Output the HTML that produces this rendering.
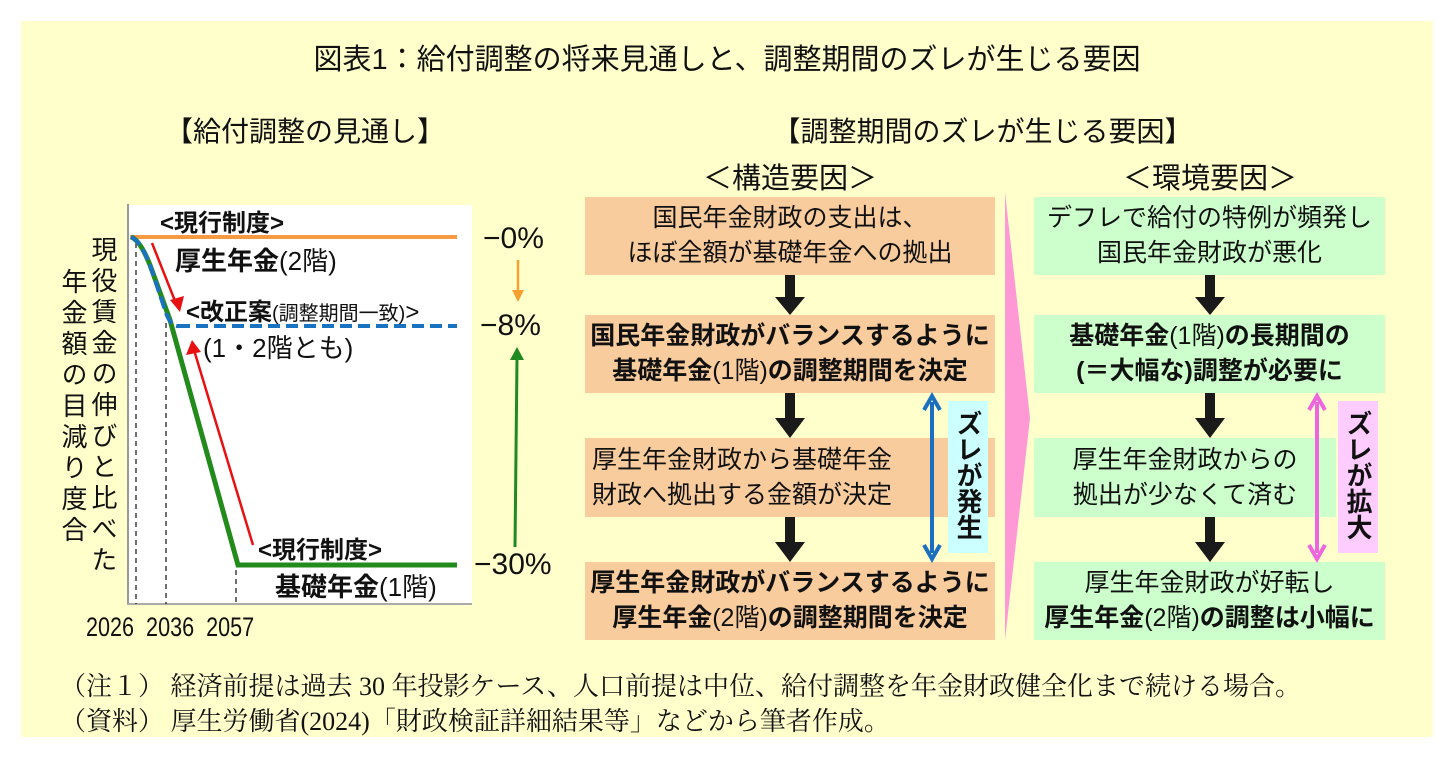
<!DOCTYPE html>
<html><head><meta charset="utf-8">
<style>
body{margin:0;width:1454px;height:766px;background:#fff;position:relative;overflow:hidden;font-family:"Liberation Sans","Noto Sans CJK JP",sans-serif;color:#111}
.p{position:absolute;white-space:nowrap}
.panel{position:absolute;left:21px;top:21px;width:1412px;height:716px;background:#ffffcc}
.box{position:absolute;display:flex;flex-direction:column;justify-content:center;align-items:center;font-size:25px;line-height:35px;text-align:center}
.o{background:#f9cc9e;left:585px;width:410px}
.g{background:#ccffcc;left:1034px;width:351px}
b{font-weight:bold}
.n{font-weight:normal}
.serif{font-family:"Liberation Serif","Noto Serif CJK JP",serif;font-size:26px}
.v{writing-mode:vertical-rl;position:absolute;font-size:26px;line-height:30px;letter-spacing:2px}
</style></head><body>
<div class="panel"></div>
<div class="p" style="left:0;width:1454px;text-align:center;top:36px;font-size:29px">図表1：給付調整の将来見通しと、調整期間のズレが生じる要因</div>
<div class="p" style="left:160px;width:290px;text-align:center;top:110px;font-size:28px">【給付調整の見通し】</div>
<div class="p" style="left:760px;width:445px;text-align:center;top:110px;font-size:28px">【調整期間のズレが生じる要因】</div>
<div class="p" style="left:690px;width:200px;text-align:center;top:155px;font-size:29px">＜構造要因＞</div>
<div class="p" style="left:1110px;width:200px;text-align:center;top:155px;font-size:29px">＜環境要因＞</div>

<div class="box o" style="top:197px;height:78px">国民年金財政の支出は、<br>ほぼ全額が基礎年金への拠出</div>
<div class="box o" style="top:315px;height:78px;font-weight:bold">国民年金財政がバランスするように<br><span>基礎年金<span class="n">(1階)</span>の調整期間を決定</span></div>
<div class="box o" style="top:438px;height:79px;align-items:flex-start;padding-left:7px;width:403px">厚生年金財政から基礎年金<br>財政へ拠出する金額が決定</div>
<div class="box o" style="top:562px;height:78px;font-weight:bold">厚生年金財政がバランスするように<br><span>厚生年金<span class="n">(2階)</span>の調整期間を決定</span></div>

<div class="box g" style="top:197px;height:78px">デフレで給付の特例が頻発し<br>国民年金財政が悪化</div>
<div class="box g" style="top:315px;height:78px;font-weight:bold"><span>基礎年金<span class="n">(1階)</span>の長期間の</span><span>(＝大幅な)調整が必要に</span></div>
<div class="box g" style="top:438px;height:79px;width:302px;padding-right:0">厚生年金財政からの<br>拠出が少なくて済む</div>
<div class="box g" style="top:562px;height:78px"><span>厚生年金財政が好転し</span><b>厚生年金<span class="n">(2階)</span>の調整は小幅に</b></div>

<svg class="p" style="left:0;top:0" width="1454" height="766">
<rect x="128" y="205" width="344" height="400" fill="#fff"/>
<line x1="128" y1="204" x2="128" y2="605" stroke="#999" stroke-width="2"/>
<line x1="127" y1="604" x2="472" y2="604" stroke="#aaa" stroke-width="2"/>
<g stroke="#222" stroke-width="1.3" stroke-dasharray="5,4">
<line x1="136" y1="243" x2="136" y2="604"/>
<line x1="166" y1="323" x2="166" y2="604"/>
<line x1="236" y1="570" x2="236" y2="604"/>
</g>
<line x1="130" y1="237" x2="457" y2="237" stroke="#f79a42" stroke-width="4"/>
<path d="M131,237 Q140,240 150,265 L170,320 L238,565 L457,565" fill="none" stroke="#238a1c" stroke-width="5"/>
<path d="M131,237 Q140,240 150,265 L165,310 Q170,326 178,326" fill="none" stroke="#1a73c0" stroke-width="4" stroke-dasharray="12,5"/>
<line x1="178" y1="326" x2="457" y2="326" stroke="#1a73c0" stroke-width="4" stroke-dasharray="12,6"/>
<line x1="152" y1="243" x2="177" y2="306" stroke="#e81010" stroke-width="2.5"/>
<path d="M170,300 L180,312 L184,296z" fill="#e81010"/>
<line x1="253" y1="545" x2="194" y2="350" stroke="#e81010" stroke-width="2.5"/>
<path d="M186,355 L192,340 L201,352z" fill="#e81010"/>
<line x1="518" y1="260" x2="518" y2="292" stroke="#f5a030" stroke-width="2.5"/>
<path d="M512,290 L518,302 L524,290z" fill="#f5a030"/>
<line x1="515" y1="547" x2="517" y2="358" stroke="#1f8a1f" stroke-width="3"/>
<path d="M510,360 L517,347 L524,360z" fill="#1f8a1f"/>
<path d="M1005,192 L1030,418 L1005,640z" fill="#ff99d6"/>
<g fill="#1a1a1a">
<path d="M785,275 h10 v22 h10 l-15,18 l-15,-18 h10z"/>
<path d="M785,393 h10 v25 h10 l-15,20 l-15,-20 h10z"/>
<path d="M785,517 h10 v25 h10 l-15,20 l-15,-20 h10z"/>
<path d="M1205,275 h10 v22 h10 l-15,18 l-15,-18 h10z"/>
<path d="M1205,393 h10 v25 h10 l-15,20 l-15,-20 h10z"/>
<path d="M1205,517 h10 v25 h10 l-15,20 l-15,-20 h10z"/>
</g>
<rect x="948" y="401" width="40" height="152" fill="#ccffff"/>
<rect x="1338" y="401" width="40" height="152" fill="#ffccff"/>
<line x1="932" y1="402" x2="932" y2="553" stroke="#1a6fc0" stroke-width="4"/>
<path d="M924,410 L932,396 L940,410" fill="none" stroke="#1a6fc0" stroke-width="4"/>
<path d="M924,545 L932,559 L940,545" fill="none" stroke="#1a6fc0" stroke-width="4"/>
<line x1="1317" y1="402" x2="1317" y2="553" stroke="#ee66dd" stroke-width="4"/>
<path d="M1309,410 L1317,396 L1325,410" fill="none" stroke="#ee66dd" stroke-width="4"/>
<path d="M1309,545 L1317,559 L1325,545" fill="none" stroke="#ee66dd" stroke-width="4"/>
</svg>

<div class="v" style="left:88px;top:236px;letter-spacing:5px">現役賃金の伸びと比べた</div>
<div class="v" style="left:58px;top:268px;letter-spacing:5px">年金額の目減り度合</div>

<div class="p" style="left:160px;top:203px;font-size:24px;font-weight:bold">&lt;現行制度&gt;</div>
<div class="p" style="left:175px;top:241px;font-size:26px"><b>厚生年金</b>(2階)</div>
<div class="p" style="left:186px;top:292px;font-size:24px"><b>&lt;改正案</b><span style="font-size:20px">(調整期間一致)</span>&gt;</div>
<div class="p" style="left:203px;top:328px;font-size:26px">(1・2階とも)</div>
<div class="p" style="left:258px;top:530px;font-size:24px;font-weight:bold">&lt;現行制度&gt;</div>
<div class="p" style="left:275px;top:567px;font-size:26px"><b>基礎年金</b>(1階)</div>
<div class="p" style="left:483px;top:222px;font-size:30px">−0%</div>
<div class="p" style="left:480px;top:309px;font-size:30px">−8%</div>
<div class="p" style="left:474px;top:548px;font-size:30px">−30%</div>
<div class="p" style="left:86px;top:612px;font-size:27px;transform:scaleX(0.8);transform-origin:left">2026&nbsp;&nbsp;2036&nbsp;&nbsp;2057</div>

<div class="v" style="left:953px;top:410px;font-weight:bold;letter-spacing:0">ズレが発生</div>
<div class="v" style="left:1343px;top:410px;font-weight:bold;letter-spacing:0">ズレが拡大</div>

<div class="p serif" style="left:60px;top:666px">（注１） 経済前提は過去 30 年投影ケース、人口前提は中位、給付調整を年金財政健全化まで続ける場合。</div>
<div class="p serif" style="left:60px;top:701px">（資料） 厚生労働省(2024)「財政検証詳細結果等」などから筆者作成。</div>
</body></html>
